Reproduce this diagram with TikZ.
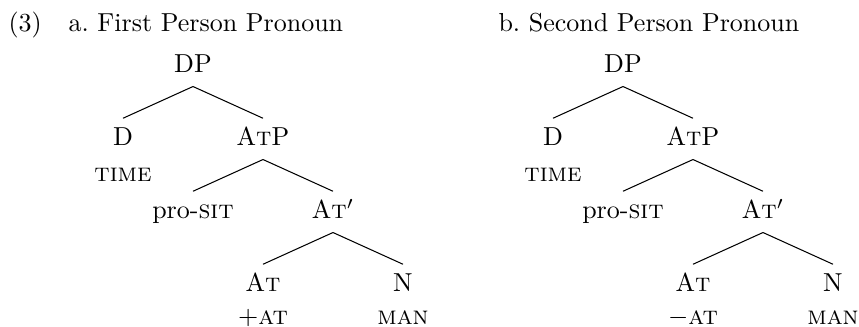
\documentclass[tikz,border=0pt]{standalone}
\usetikzlibrary{calc}
\begin{document}
\begin{tikzpicture}[x=0.3846pt, y=-0.3846pt,
    cat/.style={anchor=base, inner xsep=0pt, inner ysep=4pt, text height=1.5ex, text depth=1pt},
    feat/.style={anchor=base, inner sep=0pt},
    title/.style={anchor=base west, inner sep=0pt}]

    \def\levelGap{73}
    \def\armWidth{70}

    \useasboundingbox (0,0) rectangle (859,327);

    \node[title] (exNum) at (8,32) {(3)};

    \foreach \t/\shift/\name/\sign in {a/0/First/+, b/430/Second/-}
    {
        \node[title] (title\t) at (\shift+68,32) {\t.\ \name\ Person Pronoun};

        \coordinate (root\t) at (\shift+193,73);

        \node[cat] (dp\t) at (root\t) {DP};
        \node[cat] (d\t) at ($(root\t)+(-\armWidth,\levelGap)$) {D};
        \node[cat] (atp\t) at ($(root\t)+(\armWidth,\levelGap)$) {A\textsc{t}P};
        \node[cat] (pro\t) at ($(atp\t.base)+(-\armWidth,\levelGap)$) {pro-\textsc{sit}};
        \node[cat] (atbar\t) at ($(atp\t.base)+(\armWidth,\levelGap)$) {A\textsc{t}$'$};
        \node[cat] (at\t) at ($(atbar\t.base)+(-\armWidth,\levelGap)$) {A\textsc{t}};
        \node[cat] (n\t) at ($(atbar\t.base)+(\armWidth,\levelGap)$) {N};

        \node[feat] (time\t) at ($(d\t.base)+(0,36)$) {\textsc{time}};
        \node[feat] (atval\t) at ($(at\t.base)+(0,33)$) {$\sign$\textsc{at}};
        \node[feat] (man\t) at ($(n\t.base)+(0,33)$) {\textsc{man}};

        \draw (dp\t.south) -- (d\t.north);
        \draw (dp\t.south) -- (atp\t.north);
        \draw (atp\t.south) -- (pro\t.north);
        \draw (atp\t.south) -- (atbar\t.north);
        \draw (atbar\t.south) -- (at\t.north);
        \draw (atbar\t.south) -- (n\t.north);
    }

\end{tikzpicture}
\end{document}
